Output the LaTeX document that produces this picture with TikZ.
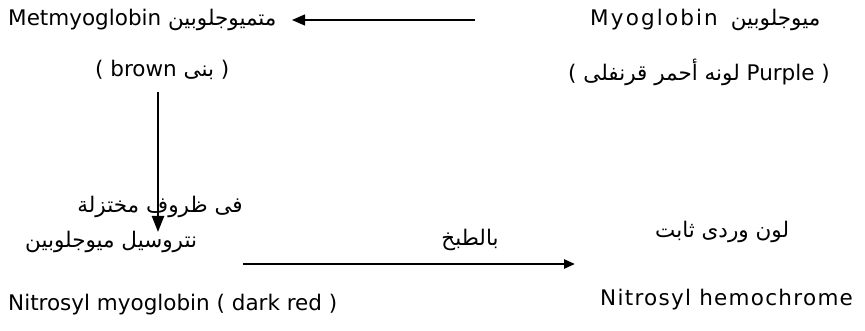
\documentclass[tikz,border=0pt]{standalone}
\usepackage{fontspec}
\setmainfont{DejaVu Sans}
\newfontfamily\arabicfont[Script=Arabic]{DejaVu Sans}
\TeXXeTstate=1
\usetikzlibrary{arrows.meta}
\newcommand\arw[1]{\hbox{\arabicfont\beginR #1\endR}}
\begin{document}
\begin{tikzpicture}[x=1pt,y=-1pt,
  lbl/.style={inner sep=0pt,font=\fontsize{21.5}{26}\selectfont},
  thinarrow/.style={line width=1.2pt,-{Triangle[length=13pt,width=11pt]}},
  thickarrow/.style={line width=2.4pt,-{Triangle[length=16pt,width=12pt]}},
  longarrow/.style={line width=2.5pt,-{Triangle[length=11pt,width=9pt]}}]
\useasboundingbox[fill=white] (0,0) rectangle (865,331);
\node[lbl,anchor=west] (mmb) at (8,20) {Metmyoglobin \arw{متميوجلوبين}};
\node[lbl,anchor=west] (mb) at (590,20) {\addfontfeature{LetterSpace=10}Myoglobin \hspace{4pt}\arw{ميوجلوبين}};
\node[lbl,anchor=west] (brown) at (95,70) {( brown \arw{بنى} )};
\node[lbl,anchor=west] (purple) at (568,72) {( \arw{قرنفلى} \arw{أحمر} \arw{لونه} Purple )};
\node[lbl] (cond) at (160,207) {\arw{مختزلة} \arw{ظروف} \arw{فى}};
\node[lbl,anchor=west] (nmar) at (25,242) {\arw{ميوجلوبين} \arw{نتروسيل}};
\node[lbl,anchor=west] (nm) at (8,305) {Nitrosyl myoglobin ( dark red )};
\node[lbl] (cook) at (470,240) {\arw{بالطبخ}};
\node[lbl,anchor=west] (rose) at (655,232) {\arw{ثابت} \arw{وردى} \arw{لون}};
\node[lbl,anchor=west] (nh) at (600,300) {\addfontfeature{LetterSpace=6}Nitrosyl hemochrome};
\coordinate (a1s) at (475,20);
\coordinate (a1e) at (292,20);
\coordinate (a2s) at (158,92);
\coordinate (a2e) at (158,232);
\coordinate (a3s) at (243,264);
\coordinate (a3e) at (575,264);
\draw[thinarrow] (a1s) -- (a1e);
\draw[thickarrow] (a2s) -- (a2e);
\draw[longarrow] (a3s) -- (a3e);
\end{tikzpicture}
\end{document}
